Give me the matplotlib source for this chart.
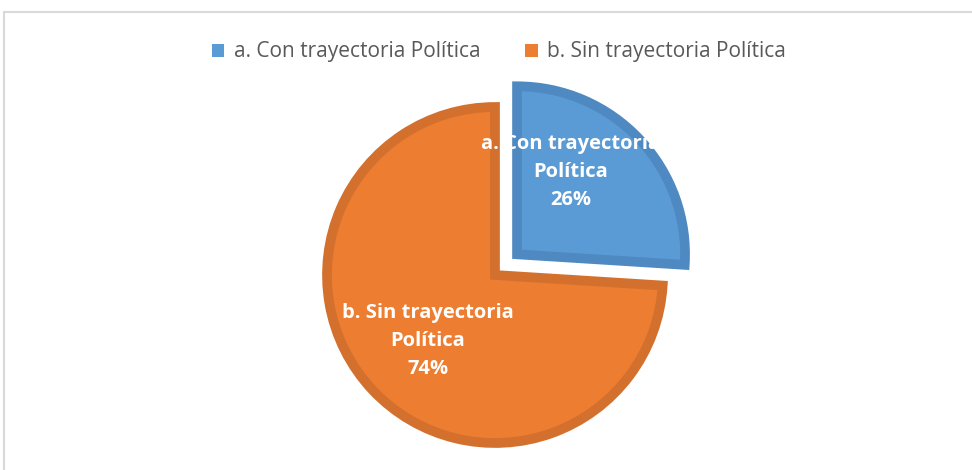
import numpy as np
import matplotlib
matplotlib.use("Agg")
import matplotlib.pyplot as plt
from matplotlib.patches import Rectangle

categorias = ["a. Con trayectoria Política", "b. Sin trayectoria Política"]
etiquetas = ["a. Con trayectoria\nPolítica", "b. Sin trayectoria\nPolítica"]
valores = [26, 74]
colores = ["#5B9BD5", "#ED7D31"]
bordes = ["#4F89C2", "#D3702D"]

plt.rcParams['font.family'] = ['Open Sans', 'DejaVu Sans']

fig = plt.figure(figsize=(9.72, 4.70), dpi=100)
ax = fig.add_axes([0, 0, 1, 1])

# borde gris del area del grafico
fig.patches.append(Rectangle((4 / 972, -0.2), 1.2, 1.2 - 12 / 470,
                             transform=fig.transFigure, fill=False,
                             edgecolor="#D9D9D9", linewidth=1.5))

explode = [0.18, 0]
wedges, _ = ax.pie(valores, colors=colores, startangle=90, counterclock=False,
                   explode=explode, radius=1,
                   wedgeprops=dict(linewidth=7, joinstyle='miter'))
for w, c in zip(wedges, bordes):
    w.set_edgecolor(c)

# posiciones de las etiquetas (Excel las acomoda a mano)
dist_lbl = [0.585, 0.56]
ang_lbl = [57, 224.6]
total = sum(valores)
for i, w in enumerate(wedges):
    cx, cy = w.center
    a = np.deg2rad(ang_lbl[i])
    x = cx + dist_lbl[i] * np.cos(a)
    y = cy + dist_lbl[i] * np.sin(a)
    ax.text(x, y, f"{etiquetas[i]}\n{valores[i] * 100 // total}%", ha='center', va='center',
            color='white', fontsize=14.5, fontweight='bold', linespacing=1.55)

# escala: 1 unidad = 168 px, centro en (495, 275)
s = 168
ax.set_xlim(-495 / s, (972 - 495) / s)
ax.set_ylim(-(470 - 275) / s, 275 / s)
ax.set_aspect('auto')
ax.axis('off')

leg = ax.legend(wedges, categorias, loc='center', bbox_to_anchor=(499 / 972, 1 - 52 / 470),
                bbox_transform=fig.transFigure, ncol=2, frameon=False,
                fontsize=15, handlelength=0.6, handleheight=0.6,
                handletextpad=0.45, columnspacing=2.15)
for t in leg.get_texts():
    t.set_color('#595959')
for h, c in zip(leg.legend_handles, colores):
    h.set_edgecolor(c)
    h.set_linewidth(0)

fig.savefig("out.png", dpi=100)
